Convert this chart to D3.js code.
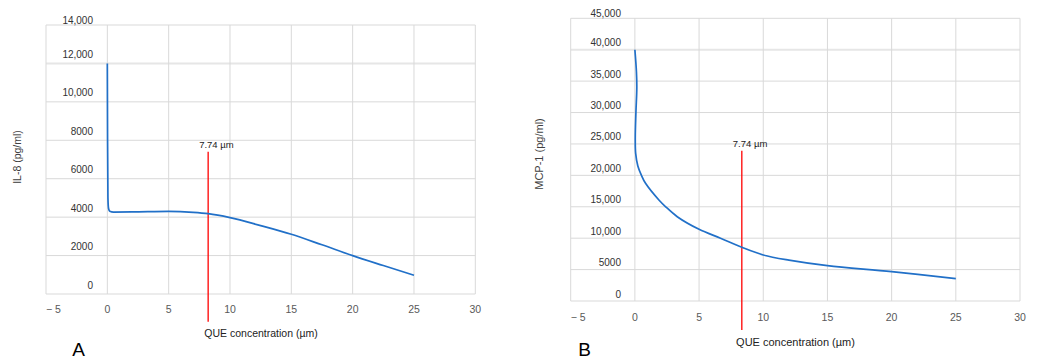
<!DOCTYPE html>
<html><head><meta charset="utf-8">
<script src="https://cdn.jsdelivr.net/npm/d3@7"></script>
<style>html,body{margin:0;padding:0;background:#fff}svg{display:block}text{font-family:"Liberation Sans",Arial,sans-serif}</style>
</head><body>
<svg id="c" width="1052" height="359"></svg>
<script>
// ---- data ----
const xTicks = [-5, 0, 5, 10, 15, 20, 25, 30];
const xTickLabels = ["\u2212 5", "0", "5", "10", "15", "20", "25", "30"];
const xTitle = "QUE concentration (\u00b5m)";

const il8YTicks = [0, 2000, 4000, 6000, 8000, 10000, 12000, 14000];
const il8YTickLabels = ["0", "2000", "4000", "6000", "8000", "10,000", "12,000", "14,000"];
const il8X = [0, 0.02, 0.05, 0.1, 0.2, 0.5, 2, 5, 7, 8.22, 10, 12.5, 15, 17.5, 20, 22.5, 25];
const il8Y = [12000, 8000, 5000, 4450, 4310, 4265, 4270, 4300, 4250, 4180, 3975, 3560, 3110, 2560, 1995, 1480, 975];
const il8Marker = { x: 8.22, top: 7400, bottom: -1440 };

const mcpYTicks = [0, 5000, 10000, 15000, 20000, 25000, 30000, 35000, 40000, 45000];
const mcpYTickLabels = ["0", "5000", "10,000", "15,000", "20,000", "25,000", "30,000", "35,000", "40,000", "45,000"];
const mcpX = [0, 0.12, 0.15, 0.08, 0.03, 0.06, 0.23, 0.5, 0.83, 1.87, 2.4, 3.3, 5, 6.67, 8.33, 10, 12, 15, 20, 25];
const mcpY = [40000, 36500, 34000, 30000, 26000, 23500, 21500, 20060, 18730, 16080, 15000, 13420, 11415, 10000, 8550, 7325, 6500, 5620, 4670, 3550];
const mcpMarker = { x: 8.33, top: 23930, bottom: -4620 };

const markerLabel = "7.74 \u00b5m";
const panelLetters = ["A", "B"];
const yTitles = ["IL-8 (pg/ml)", "MCP-1 (pg/ml)"];

// ---- drawing ----
const svg = d3.select("#c");
const grid = "#d9d9d9";

const panels = [
  { frame: { l: 46, r: 475.3, t: 25, b: 294 }, yMax: 14000, yTicks: il8YTicks, yLabels: il8YTickLabels,
    xs: il8X, ys: il8Y, marker: il8Marker, curve: d3.curveMonotoneX, labelRight: 93, labelDy: -9,
    yTitle: yTitles[0], yTitlePos: [17, 157], yTitleSize: 10.5, xTitlePos: [261, 336.5], xTitleSize: 10.5,
    xLabelDy: 18.5, letter: panelLetters[0], letterPos: [78.5, 356], thickAt: 12000 },
  { frame: { l: 570.7, r: 1020, t: 18.3, b: 301 }, yMax: 45000, yTicks: mcpYTicks, yLabels: mcpYTickLabels,
    xs: mcpX, ys: mcpY, marker: mcpMarker, curve: d3.curveCatmullRom.alpha(0.5), labelRight: 621, labelDy: -7,
    yTitle: yTitles[1], yTitlePos: [539, 154], yTitleSize: 11, xTitlePos: [795.5, 345.5], xTitleSize: 11,
    xLabelDy: 19.5, letter: panelLetters[1], letterPos: [584.5, 356], thickAt: 40000 }
];

panels.forEach(p => {
  const f = p.frame;
  const x = d3.scaleLinear().domain([-5, 30]).range([f.l, f.r]);
  const y = d3.scaleLinear().domain([0, p.yMax]).range([f.b, f.t]);
  const g = svg.append("g");

  g.selectAll("line.h").data(p.yTicks).join("line")
    .attr("x1", f.l).attr("x2", f.r)
    .attr("y1", d => y(d)).attr("y2", d => y(d))
    .attr("stroke", d => d === p.thickAt ? "#e6e6e6" : grid)
    .attr("stroke-width", d => d === p.thickAt ? 2 : 1);
  g.selectAll("line.v").data(xTicks).join("line")
    .attr("x1", d => x(d)).attr("x2", d => x(d))
    .attr("y1", f.t).attr("y2", f.b)
    .attr("stroke", grid).attr("stroke-width", 1);

  g.selectAll("text.yl").data(p.yTicks).join("text")
    .attr("x", p.labelRight)
    .attr("y", d => Math.max(y(d) + p.labelDy, f.t - 5))
    .attr("text-anchor", "end").attr("dominant-baseline", "central")
    .attr("font-size", 10).attr("fill", "#333")
    .text((d, i) => p.yLabels[i]);

  g.selectAll("text.xl").data(xTicks).join("text")
    .attr("x", d => x(d))
    .attr("y", f.b + p.xLabelDy)
    .attr("text-anchor", (d, i) => i === 0 ? "start" : "middle")
    .attr("font-size", 10.5).attr("fill", "#595959")
    .text((d, i) => xTickLabels[i]);

  g.append("line")
    .attr("x1", x(p.marker.x)).attr("x2", x(p.marker.x))
    .attr("y1", y(p.marker.top)).attr("y2", y(p.marker.bottom))
    .attr("stroke", "#ff0000").attr("stroke-width", 1.3);
  g.append("text")
    .attr("x", x(p.marker.x) - 9).attr("y", y(p.marker.top) - 7.5)
    .attr("dominant-baseline", "central")
    .attr("font-size", 9.5).attr("fill", "#222")
    .text(markerLabel);

  const pts = p.xs.map((v, i) => [v, p.ys[i]]);
  g.append("path").datum(pts)
    .attr("d", d3.line().x(d => x(d[0])).y(d => y(d[1])).curve(p.curve))
    .attr("fill", "none").attr("stroke", "#2170c8").attr("stroke-width", 1.7)
    .attr("stroke-linejoin", "round");

  g.append("text")
    .attr("transform", `translate(${p.yTitlePos[0]},${p.yTitlePos[1]}) rotate(-90)`)
    .attr("text-anchor", "middle").attr("dominant-baseline", "central")
    .attr("font-size", p.yTitleSize).attr("fill", "#404040")
    .text(p.yTitle);
  g.append("text")
    .attr("x", p.xTitlePos[0]).attr("y", p.xTitlePos[1])
    .attr("text-anchor", "middle")
    .attr("font-size", p.xTitleSize).attr("fill", "#222")
    .text(xTitle);

  g.append("text")
    .attr("x", p.letterPos[0]).attr("y", p.letterPos[1])
    .attr("text-anchor", "middle")
    .attr("font-size", 19).attr("fill", "#000")
    .text(p.letter);
});
</script>
</body></html>
